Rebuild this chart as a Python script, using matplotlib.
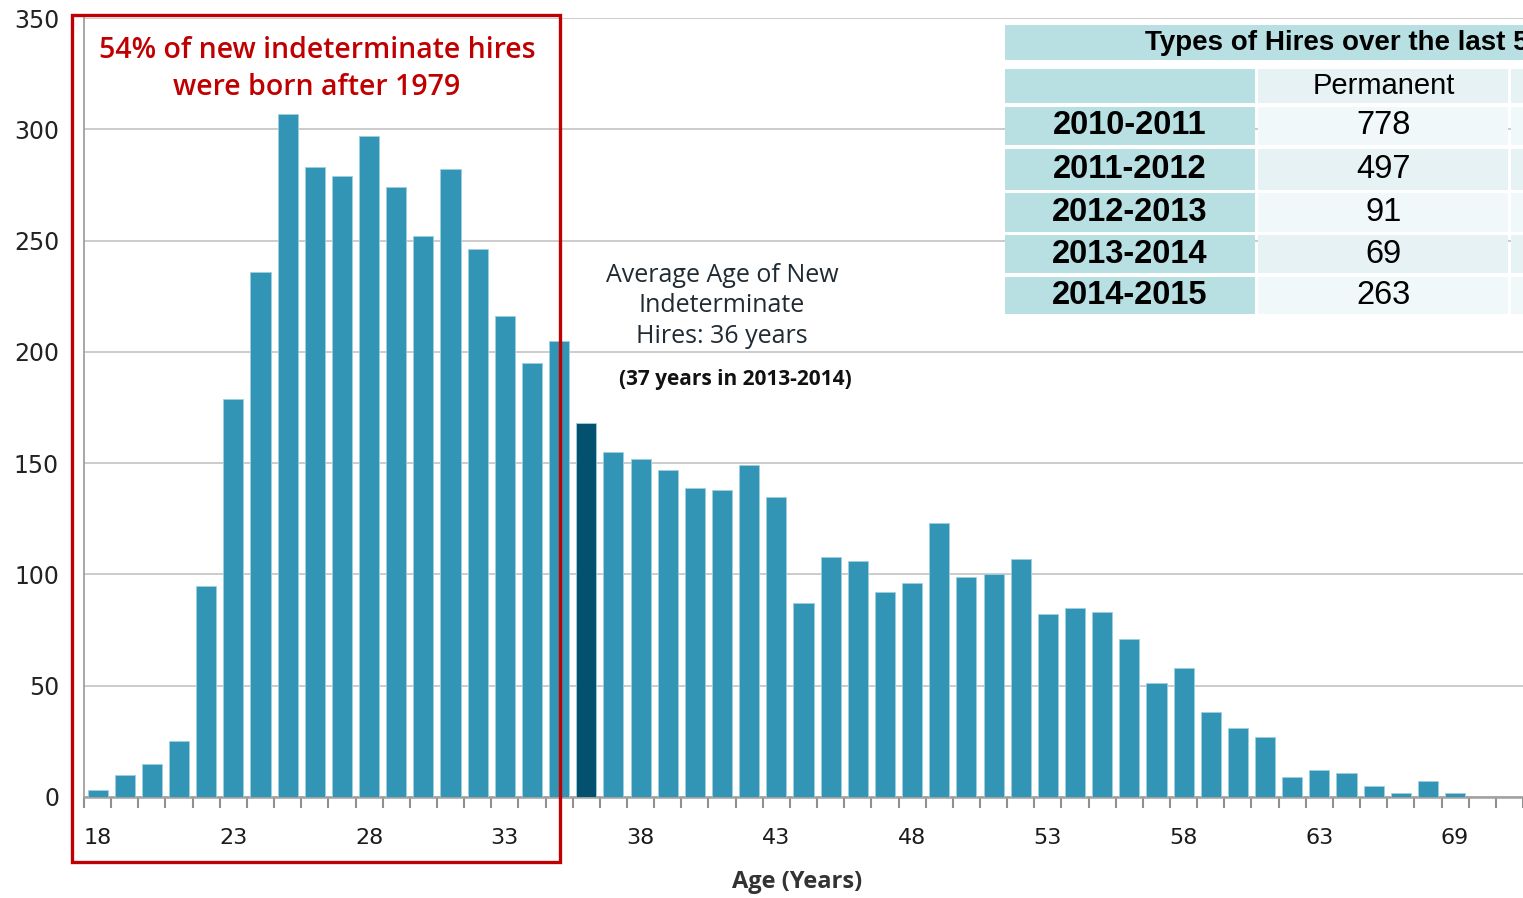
import numpy as np
import matplotlib.pyplot as plt
from matplotlib.patches import Rectangle

# ages on the x axis (the source skips 66, so the last slot reads 69)
ages = list(range(18, 66)) + [67, 68, 69]
hires = [3, 10, 15, 25, 95, 179, 236, 307, 283, 279,
         297, 274, 252, 282, 246, 216, 195, 205, 168, 155,
         152, 147, 139, 138, 149, 135, 87, 108, 106, 92,
         96, 123, 99, 100, 107, 82, 85, 83, 71, 51,
         58, 38, 31, 27, 9, 12, 11, 5, 2, 7, 2]
avg_age = 36

years = ['2010-2011', '2011-2012', '2012-2013', '2013-2014', '2014-2015']
permanent = [778, 497, 91, 69, 263]

W, H = 1523, 898
fig = plt.figure(figsize=(W / 100, H / 100), dpi=100)

def fx(px):
    return px / W

def fy(py):
    return 1 - py / H

ax = fig.add_axes([fx(84), fy(797), 1 - fx(84), fy(18) - fy(797)])

x = np.arange(len(ages))
colors = ['#03506f' if a == avg_age else '#3295b5' for a in ages]
ax.bar(x, hires, width=0.74, color=colors, edgecolor='#9fd0de', linewidth=0.6, zorder=3)

ax.set_xlim(-0.5, 52.3)
ax.set_ylim(0, 350)
ax.set_yticks(range(0, 351, 50))
ax.yaxis.grid(True, color='#c8c8c8', linewidth=1.3, zorder=0)
ax.tick_params(axis='y', length=0, pad=18, labelsize=17, labelcolor='#222222')

major = x[::5]
ax.set_xticks(major)
ax.set_xticklabels([str(ages[i]) for i in major], fontsize=16, color='#1a1a1a')
ax.set_xticks(np.arange(-0.5, 53, 1), minor=True)
ax.tick_params(axis='x', which='major', length=0, pad=22)
ax.tick_params(axis='x', which='minor', length=8, width=1.5, color='#909090')

for s in ['top', 'right']:
    ax.spines[s].set_visible(False)
ax.spines['left'].set_color('#a0a0a0')
ax.spines['left'].set_linewidth(1.3)
ax.spines['bottom'].set_color('#a0a0a0')
ax.spines['bottom'].set_linewidth(1.8)

fig.text(fx(797), fy(882), 'Age (Years)', ha='center', va='center',
         fontsize=17, fontweight='bold', family='Open Sans', color='#333333')

# red box around the under-35 ages
fig.patches.append(Rectangle((fx(72), fy(862)), fx(560) - fx(72), fy(15) - fy(862),
                             transform=fig.transFigure, fill=False,
                             edgecolor='#c00000', linewidth=2.4, zorder=10))
fig.text(fx(317), fy(69), '54% of new indeterminate hires\nwere born after 1979',
         ha='center', va='center', fontsize=20.5, fontweight='semibold', family='Open Sans',
         color='#c00000', linespacing=1.4)

fig.text(fx(722), fy(306), 'Average Age of New\nIndeterminate\nHires: %d years' % avg_age,
         ha='center', va='center', fontsize=18, fontweight='medium', family='Open Sans',
         color='#1f2a33', linespacing=1.3)
fig.text(fx(735), fy(380), '(37 years in 2013-2014)', ha='center', va='center',
         fontsize=15, fontweight='bold', family='Open Sans', color='#111111')

# table in the upper right
teal = '#b8dfe2'
light = ['#f1f8fa', '#e6f2f4']
c0, c1, c2 = 1005, 1258, 1511

def cell(x0, y0, x1, y1, color):
    fig.patches.append(Rectangle((fx(x0), fy(y1)), fx(x1) - fx(x0), fy(y0) - fy(y1),
                                 transform=fig.transFigure, facecolor=color,
                                 edgecolor='none', zorder=5))

cell(c0, 25, W, 60, teal)
fig.text(fx(1145), fy(43), 'Types of Hires over the last 5 years', ha='left', va='center',
         fontsize=20, fontweight='bold', family='Liberation Sans', color='black', zorder=6)
cell(c0, 69, c1 - 3, 103, teal)
cell(c1, 69, c2 - 3, 103, '#e6f2f4')
cell(c2, 69, W, 103, '#e6f2f4')
fig.text(fx((c1 + c2) / 2 - 1), fy(86), 'Permanent', ha='center', va='center',
         fontsize=21, family='Liberation Sans', color='black', zorder=6)

rows = [(107, 145), (149, 190), (193, 232), (235, 273), (277, 314)]
for i, (yr, val) in enumerate(zip(years, permanent)):
    y0, y1 = rows[i]
    cell(c0, y0, c1 - 3, y1, teal)
    cell(c1, y0, c2 - 3, y1, light[i % 2])
    cell(c2, y0, W, y1, light[i % 2])
    fig.text(fx(1130), fy((y0 + y1) / 2), yr, ha='center', va='center',
             fontsize=23.5, fontweight='bold', family='Liberation Sans', color='black', zorder=6)
    fig.text(fx((c1 + c2) / 2 - 1), fy((y0 + y1) / 2), str(val), ha='center', va='center',
             fontsize=23.5, family='Liberation Sans', color='black', zorder=6)

plt.savefig('out.png', dpi=100)
